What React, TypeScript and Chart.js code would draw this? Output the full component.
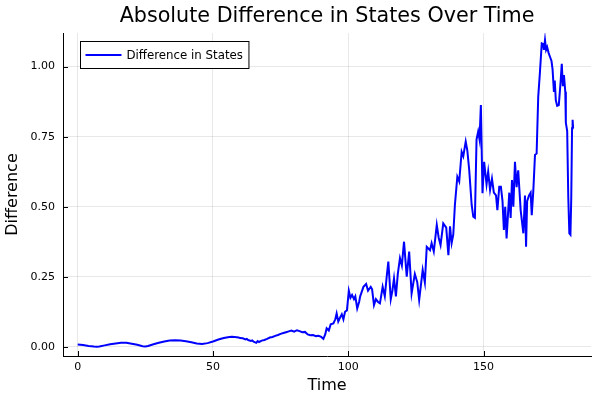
import React, { useEffect, useRef } from "react";
import { Chart, registerables } from "chart.js";

Chart.register(...registerables);

const titleText = "Absolute Difference in States Over Time";
const seriesLabel = "Difference in States";
const xTitle = "Time";
const yTitle = "Difference";
const xTicks = [0, 50, 100, 150];
const yTicks = [0, 0.25, 0.5, 0.75, 1.0];

const times = [
  0, 2, 4, 6, 7, 8, 10, 12, 14, 16, 18, 20, 22, 24, 25, 26, 28, 30, 32, 34, 36, 38, 40, 42, 44, 46, 48, 50, 52, 54, 56, 57, 58, 59.5,
  60, 61, 62, 62.5, 63, 64, 64.5, 65, 66, 66.5, 67, 68, 69, 70, 71, 72, 73, 74, 75, 76, 77, 78, 79, 80, 81, 82, 83, 84, 85, 86, 87, 88, 89, 90, 90.8,
  91.5, 92, 92.8, 93.5, 94.5, 95.2, 95.7, 96.3, 97, 97.6, 98.2, 98.8, 99.5, 100.2, 100.8, 101.4, 102.1, 102.6, 103.3, 104, 104.4, 105.6, 106.6, 107.3, 108.3, 108.8, 109.5, 110.2, 111, 111.7,
  112.7, 113.5, 114.2, 114.8, 115.7, 116.3, 116.9, 117.6, 118.3, 119.1, 119.8, 120.6, 121.6, 122.5, 123.4, 124.6, 125.5, 126.2, 127.5, 128.3, 129, 130.2, 130.8, 131.6, 132.7, 133.4, 134.1, 135.1, 136.2, 137, 137.6, 138.2, 138.8, 139.4,
  140.3, 141, 141.9, 142.5, 143.4, 144, 144.7, 145.6, 146.2, 146.8, 147.4, 148, 148.5, 149, 149.6, 150.2, 151.1, 151.7, 152.4, 153.1, 153.8, 154.6, 155.1, 155.8, 156.4, 157, 157.5, 158, 158.5, 159.5,
  160, 160.5, 161, 161.6, 162.2, 162.8, 163.7, 164.7, 165.3, 165.7, 166.1, 166.8, 167.4, 167.8, 168.4, 169, 169.6, 170.2, 170.8, 171.5, 172, 172.3, 172.7, 173.1, 173.5, 174, 174.5, 175.1, 175.5, 176, 176.3, 176.7,
  177.2, 177.8, 178.5, 178.9, 179.3, 179.7, 180.2, 180.4, 180.9, 181.3, 181.7, 182.1, 182.4, 182.7, 182.9, 183.1,
];

const diffs = [
  0.008, 0.006, 0.003, 0.0005, 0.0, 0.001, 0.005, 0.009, 0.012, 0.014, 0.014, 0.011, 0.007, 0.002, 0.001, 0.003, 0.009, 0.014, 0.019, 0.022, 0.023, 0.022, 0.02, 0.016, 0.012, 0.01, 0.013, 0.019, 0.026, 0.031, 0.035, 0.036, 0.035, 0.033,
  0.031, 0.03, 0.026, 0.028, 0.024, 0.021, 0.023, 0.018, 0.014, 0.02, 0.017, 0.022, 0.024, 0.028, 0.033, 0.035, 0.039, 0.042, 0.046, 0.049, 0.052, 0.055, 0.058, 0.054, 0.059, 0.056, 0.052, 0.053, 0.044, 0.041, 0.042, 0.038, 0.039, 0.035, 0.028,
  0.045, 0.066, 0.058, 0.08, 0.083, 0.098, 0.119, 0.09, 0.105, 0.116, 0.098, 0.125, 0.13, 0.2, 0.175, 0.185, 0.17, 0.18, 0.137, 0.16, 0.18, 0.214, 0.224, 0.2, 0.214, 0.205, 0.149, 0.17, 0.16, 0.155,
  0.214, 0.18, 0.25, 0.304, 0.17, 0.2, 0.244, 0.18, 0.26, 0.316, 0.29, 0.375, 0.25, 0.34, 0.19, 0.26, 0.23, 0.167, 0.274, 0.23, 0.357, 0.345, 0.37, 0.34, 0.435, 0.39, 0.363, 0.44, 0.425, 0.327, 0.43, 0.37, 0.4, 0.506,
  0.607, 0.59, 0.696, 0.68, 0.732, 0.7, 0.63, 0.506, 0.464, 0.46, 0.74, 0.768, 0.74, 0.863, 0.548, 0.66, 0.58, 0.625, 0.56, 0.6, 0.55, 0.54, 0.488, 0.571, 0.571, 0.52, 0.417, 0.5, 0.387, 0.55,
  0.46, 0.595, 0.5, 0.66, 0.57, 0.63, 0.488, 0.405, 0.54, 0.357, 0.52, 0.54, 0.55, 0.47, 0.56, 0.685, 0.69, 0.893, 0.976, 1.083, 1.08, 1.06, 1.095, 1.06, 1.07, 1.05, 1.036, 1.02, 0.99, 0.91, 0.95, 0.88,
  0.86, 0.863, 0.95, 1.01, 0.93, 0.97, 0.91, 0.8, 0.77, 0.535, 0.405, 0.4, 0.53, 0.78, 0.81, 0.78,
];

const FONT = '"DejaVu Sans", sans-serif';

const overlayPlugin = {
  id: "overlay",
  afterDraw(chart: any) {
    const { ctx, chartArea, scales } = chart;
    const xs = scales.x;
    const ys = scales.y;
    ctx.save();
    // inward tick marks
    ctx.strokeStyle = "#000";
    ctx.lineWidth = 1;
    xs.ticks.forEach((t: any) => {
      const px = Math.round(xs.getPixelForValue(t.value)) + 0.5;
      ctx.beginPath();
      ctx.moveTo(px, chartArea.bottom);
      ctx.lineTo(px, chartArea.bottom - 5);
      ctx.stroke();
    });
    ys.ticks.forEach((t: any) => {
      const py = Math.round(ys.getPixelForValue(t.value)) + 0.5;
      ctx.beginPath();
      ctx.moveTo(chartArea.left, py);
      ctx.lineTo(chartArea.left + 5, py);
      ctx.stroke();
    });
    // title
    ctx.fillStyle = "#000";
    ctx.font = `20.7px ${FONT}`;
    ctx.textAlign = "center";
    ctx.textBaseline = "alphabetic";
    ctx.fillText(titleText, (chartArea.left + chartArea.right) / 2, 22);
    // legend
    const ds = chart.data.datasets[0];
    ctx.font = `11.8px ${FONT}`;
    const tw = ctx.measureText(ds.label).width;
    const bx = chartArea.left + 17.5;
    const by = chartArea.top + 8.5;
    const bw = 46 + tw + 6;
    const bh = 27;
    ctx.fillStyle = "#fff";
    ctx.fillRect(bx, by, bw, bh);
    ctx.strokeStyle = "#000";
    ctx.lineWidth = 1;
    ctx.strokeRect(bx, by, bw, bh);
    ctx.strokeStyle = ds.borderColor;
    ctx.lineWidth = 2;
    ctx.beginPath();
    ctx.moveTo(bx + 5, by + bh / 2);
    ctx.lineTo(bx + 41, by + bh / 2);
    ctx.stroke();
    ctx.fillStyle = "#000";
    ctx.textAlign = "left";
    ctx.textBaseline = "middle";
    ctx.fillText(ds.label, bx + 46, by + bh / 2 + 0.5);
    ctx.restore();
  },
};

export default function App() {
  const ref = useRef<HTMLCanvasElement | null>(null);
  useEffect(() => {
    document.body.style.margin = "0";
    const canvas = ref.current;
    if (!canvas) return;
    const points = times.map((t, i) => ({ x: t, y: diffs[i] }));
    const chart = new Chart(canvas, {
      type: "line",
      data: {
        datasets: [
          {
            label: seriesLabel,
            data: points,
            borderColor: "#0000ff",
            borderWidth: 2,
            pointRadius: 0,
            tension: 0,
            fill: false,
          },
        ],
      },
      options: {
        animation: false,
        responsive: true,
        maintainAspectRatio: false,
        layout: { padding: { top: 33, right: 9, left: 0, bottom: 0 } },
        plugins: {
          legend: { display: false },
          title: { display: false },
          tooltip: { enabled: false },
        },
        scales: {
          x: {
            type: "linear",
            min: -5.43,
            max: 189.7,
            afterBuildTicks: (s: any) => {
              s.ticks = xTicks.map((v) => ({ value: v }));
            },
            afterFit: (s: any) => {
              s.height = 44;
            },
            ticks: {
              color: "#000",
              font: { family: FONT, size: 11 },
              padding: 5,
              maxRotation: 0,
              callback: (v: any) => String(v),
            },
            grid: { color: "rgba(0,0,0,0.09)", lineWidth: 1, drawTicks: false },
            border: { display: true, color: "#000", width: 1 },
            title: {
              display: true,
              text: xTitle,
              color: "#000",
              font: { family: FONT, size: 16 },
              padding: { top: 0, bottom: 5 },
            },
          },
          y: {
            type: "linear",
            min: -0.033,
            max: 1.12,
            afterBuildTicks: (s: any) => {
              s.ticks = yTicks.map((v) => ({ value: v }));
            },
            afterFit: (s: any) => {
              s.width = 63;
            },
            ticks: {
              color: "#000",
              font: { family: FONT, size: 11 },
              padding: 8,
              callback: (v: any) => Number(v).toFixed(2),
            },
            grid: { color: "rgba(0,0,0,0.09)", lineWidth: 1, drawTicks: false },
            border: { display: true, color: "#000", width: 1 },
            title: {
              display: true,
              text: yTitle,
              color: "#000",
              font: { family: FONT, size: 16 },
              padding: { top: 3, bottom: 0 },
            },
          },
        },
      },
      plugins: [overlayPlugin],
    });
    return () => chart.destroy();
  }, []);
  return (
    <div style={{ width: 600, height: 400, position: "relative" }}>
      <canvas ref={ref} />
    </div>
  );
}
